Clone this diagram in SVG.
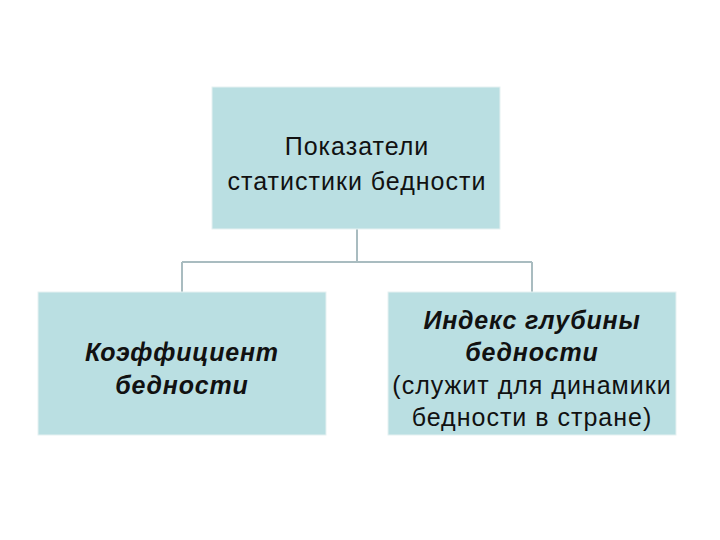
<svg xmlns="http://www.w3.org/2000/svg" width="720" height="540" viewBox="0 0 720 540">
<style>
.box{fill:#badfe2;stroke:#e6f1f2;stroke-width:1}
.t{font-family:"Liberation Sans",Arial,sans-serif;font-size:25px;letter-spacing:1px;fill:#111;text-anchor:middle}
.b{font-weight:bold;font-style:italic;letter-spacing:0.8px}
.c{fill:none;stroke:#a9bcc0;stroke-width:2}
</style>
<rect width="720" height="540" fill="#fff"/>
<g id="connectors">
<path class="c" d="M357 229V262M182 262H532M182 262V292M532 262V292"/>
</g>
<g id="root">
<rect class="box" x="212" y="87" width="288" height="142"/>
<text class="t" x="357" y="155">Показатели</text>
<text class="t" x="357" y="190">статистики бедности</text>
</g>
<g id="left">
<rect class="box" x="38" y="292" width="288" height="143"/>
<text class="t b" x="182" y="361">Коэффициент</text>
<text class="t b" x="182" y="394">бедности</text>
</g>
<g id="right">
<rect class="box" x="388" y="292" width="288" height="143"/>
<text class="t b" x="532" y="329">Индекс глубины</text>
<text class="t b" x="532" y="361">бедности</text>
<text class="t" x="532" y="394">(служит для динамики</text>
<text class="t" x="532" y="426">бедности в стране)</text>
</g>
</svg>
